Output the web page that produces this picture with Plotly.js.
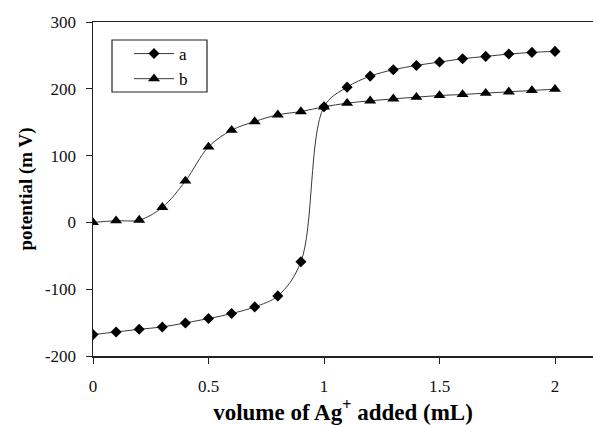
<!DOCTYPE html>
<html>
<head>
<meta charset="utf-8">
<script src="https://cdn.plot.ly/plotly-3.0.1.min.js"></script>
<style>html,body{margin:0;padding:0;background:#fff;}#chart{width:593px;height:425px;}</style>
</head>
<body>
<div id="chart"></div>
<script>
var volume = [0, 0.1, 0.2, 0.3, 0.4, 0.5, 0.6, 0.7, 0.8, 0.9, 1.0, 1.1, 1.2, 1.3, 1.4, 1.5, 1.6, 1.7, 1.8, 1.9, 2.0];
var seriesA = [-168, -164, -160, -156.5, -150.5, -144, -136.5, -126.5, -110, -59, 173, 202.5, 219, 228.5, 235, 240, 245, 248.5, 252, 254.5, 256];
var seriesB = [0, 2.5, 3.5, 22.5, 62, 113, 138, 151, 161, 166, 173, 178.5, 182, 185, 187.5, 190, 191.5, 193.5, 195.5, 197.5, 199.5];
var seriesNames = ['a', 'b'];
var xTickVals = [0, 0.5, 1, 1.5, 2];
var xTickText = ['0', '0.5', '1', '1.5', '2'];
var yTickVals = [-200, -100, 0, 100, 200, 300];
var yTickText = ['-200', '-100', '0', '100', '200', '300'];

var serif = 'Liberation Serif, Times New Roman, serif';
var lineStyle = {color: '#3a3a3a', width: 1, shape: 'spline', smoothing: 1};

var traces = [
  {x: volume, y: seriesA, name: seriesNames[0], type: 'scatter', mode: 'lines+markers',
   line: lineStyle, marker: {symbol: 'diamond', size: 8.5, color: '#000'}},
  {x: volume, y: seriesB, name: seriesNames[1], type: 'scatter', mode: 'lines+markers',
   line: lineStyle, marker: {symbol: 'triangle-up', size: 10.5, color: '#000'}}
];

// plot area: left 93px, width 500px; top 22px, height 334px
var layout = {
  width: 593, height: 425,
  margin: {l: 93, r: 0, t: 22, b: 69, pad: 0},
  paper_bgcolor: '#fff', plot_bgcolor: '#fff',
  font: {family: serif, size: 16, color: '#000'},
  showlegend: true,
  legend: {x: 0.072, y: 0.958, xanchor: 'left', yanchor: 'top',
           borderwidth: 0, bgcolor: 'rgba(0,0,0,0)',
           font: {family: serif, size: 17, color: '#000'}, itemwidth: 40, tracegroupgap: 0},
  shapes: [
    {type: 'rect', xref: 'paper', yref: 'paper', layer: 'below',
     x0: 0.038, x1: 0.228, y0: (356 - 92) / 334, y1: (356 - 40) / 334,
     line: {color: '#222', width: 1.2}, fillcolor: '#fff'}
  ],
  xaxis: {range: [0, 2.1645], tickvals: xTickVals, ticktext: xTickText,
          showgrid: false, zeroline: false, showline: true, mirror: true,
          linecolor: '#222', linewidth: 1.5, ticks: 'outside', ticklen: 6, tickcolor: '#222',
          ticklabelstandoff: 8, tickfont: {family: serif, size: 17, color: '#111'},
          title: {text: 'volume of Ag<sup>+</sup> added (mL)', standoff: 10,
                  font: {family: serif, size: 23, color: '#000', weight: 'bold'}}},
  yaxis: {range: [-200, 300], tickvals: yTickVals, ticktext: yTickText,
          showgrid: false, zeroline: false, showline: true,
          linecolor: '#222', linewidth: 1.5, ticks: 'outside', ticklen: 6, tickcolor: '#222',
          ticklabelstandoff: 6, tickfont: {family: serif, size: 17, color: '#111'},
          title: {text: 'potential (m V)', standoff: 7,
                  font: {family: serif, size: 19, color: '#000', weight: 'bold'}}}
};

Plotly.newPlot('chart', traces, layout, {displayModeBar: false, staticPlot: true});
</script>
</body>
</html>
